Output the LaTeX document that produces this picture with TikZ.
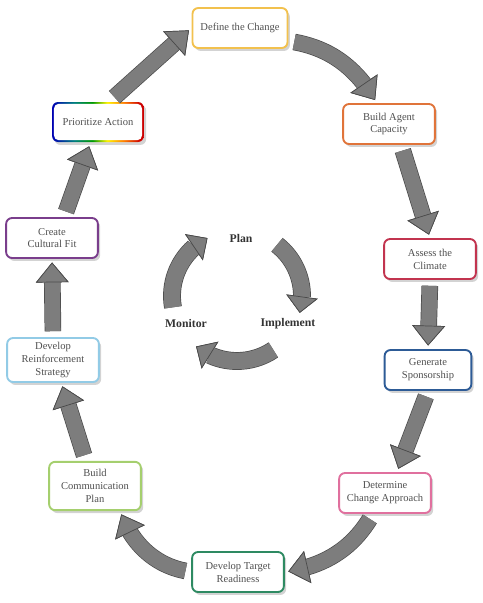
\documentclass[tikz,border=0pt]{standalone}
\usepackage{fontspec}
\setmainfont{Liberation Serif}
\usetikzlibrary{arrows.meta, bending, shadows, positioning}
\definecolor{arrowgray}{HTML}{7D7D7D}
\definecolor{arrowedge}{HTML}{4A4A4A}
\definecolor{labeltext}{HTML}{505050}
\definecolor{definecol}{HTML}{F2C14E}
\definecolor{agentcol}{HTML}{E0743A}
\definecolor{climatecol}{HTML}{C2344F}
\definecolor{sponsorcol}{HTML}{2D5B96}
\definecolor{approachcol}{HTML}{E0709E}
\definecolor{readycol}{HTML}{2E8A62}
\definecolor{commcol}{HTML}{A5CF6E}
\definecolor{reinfcol}{HTML}{92CBE6}
\definecolor{culturecol}{HTML}{7A3E8C}
\pgfdeclarehorizontalshading{rainbowedge}{100bp}{color(0bp)=(blue!70!black); color(25bp)=(blue!70!black); color(37bp)=(teal); color(47bp)=(green!60!black); color(55bp)=(yellow!90!orange); color(64bp)=(orange); color(73bp)=(red!80!black); color(100bp)=(red!80!black)}

\begin{document}
\begin{tikzpicture}[x=0.03cm, y=0.03cm,
    stage/.style={draw=#1, line width=1.6pt, fill=white, rounded corners=5pt,
      text=labeltext, align=center, font=\fontsize{9}{11}\selectfont,
      minimum width=2.75cm, minimum height=1.2cm, inner sep=2pt,
      drop shadow={shadow xshift=2pt, shadow yshift=-2.5pt, opacity=.35}},
    flow/.style={line width=13pt, draw=arrowgray,
      -{Triangle[length=17pt, width=28pt, line width=0.6pt, color=arrowedge, fill=arrowgray]},
      shorten <=5pt, shorten >=3pt,
      preaction={draw=arrowedge, line width=14.2pt}},
    cyc/.style={line width=14pt, draw=arrowgray,
      -{Triangle[length=14pt, width=27pt, line width=0.6pt, color=arrowedge, fill=arrowgray]},
      preaction={draw=arrowedge, line width=15.2pt}},
    step label/.style={text=black!80, font=\fontsize{10}{12}\selectfont\bfseries}]
  \useasboundingbox (0,0) rectangle (483,-603);

  % outer ring of stages
  \node[stage=definecol, minimum width=2.85cm] (define) at (240,-28) {Define the Change};
  \node[stage=agentcol] (agent) at (389,-124) {Build Agent\\Capacity};
  \node[stage=climatecol] (climate) at (430,-259) {Assess the\\Climate};
  \node[stage=sponsorcol, minimum width=2.6cm] (sponsor) at (428,-370) {Generate\\Sponsorship};
  \node[stage=approachcol] (approach) at (385,-493) {Determine\\Change Approach};
  \node[stage=readycol] (readiness) at (238,-572) {Develop Target\\Readiness};
  \node[stage=commcol, minimum height=1.45cm] (comm) at (95,-486) {Build\\Communication\\Plan};
  \node[stage=reinfcol, minimum height=1.32cm] (reinforce) at (53,-360) {Develop\\Reinforcement\\Strategy};
  \node[stage=culturecol] (cultural) at (52,-238) {Create\\Cultural Fit};

  % rainbow framed stage
  \node[stage=none, shade, shading=rainbowedge] (prioritize) at (98,-122) {};
  \node[fill=white, rounded corners=4pt, minimum width=2.64cm, minimum height=1.09cm,
    text=labeltext, font=\fontsize{9}{11}\selectfont] at (prioritize) {Prioritize Action};

  % connectors between stages
  \draw[flow] (prioritize.60) -- (define.west);
  \draw[flow] (define.-15) to[bend left=25] (agent.120);
  \draw[flow] (agent.-60) -- (climate.north);
  \draw[flow] (climate.south) -- (sponsor.north);
  \draw[flow] (sponsor.south) -- (approach.60);
  \draw[flow] (approach.-120) to[bend left=25] (readiness.east);
  \draw[flow] (readiness.west) to[bend left=30] (comm.-45);
  \draw[flow] (comm.110) -- (reinforce.-70);
  \draw[flow] (reinforce.north) -- (cultural.south);
  \draw[flow] (cultural.60) -- (prioritize.-110);

  % inner plan cycle
  \coordinate (ctr) at (237,-296);
  \node[step label] (plan) at (241,-238) {Plan};
  \node[step label] (implement) at (288,-324) {Implement};
  \node[step label] (monitor) at (186,-323) {Monitor};
  \draw[cyc] ([shift={(190:65)}]ctr) arc[start angle=190, end angle=117, radius=65];
  \draw[cyc] ([shift={(52:65)}]ctr) arc[start angle=52, end angle=-15, radius=65];
  \draw[cyc] ([shift={(-56:65)}]ctr) arc[start angle=-56, end angle=-129, radius=65];
\end{tikzpicture}
\end{document}
